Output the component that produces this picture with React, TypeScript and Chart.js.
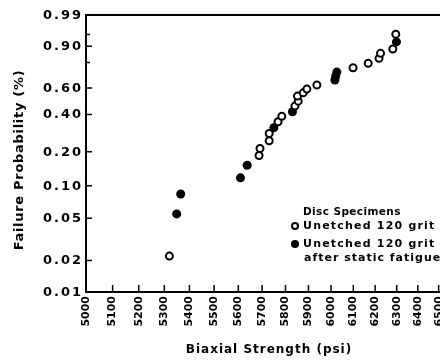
import React, { useEffect, useRef } from "react";
import { Chart, registerables } from "chart.js";

Chart.register(...registerables);

// ---- data ----
const xTickValues = [5000, 5100, 5200, 5300, 5400, 5500, 5600, 5700, 5800, 5900, 6000, 6100, 6200, 6300, 6400, 6500];
const yTickValues = [0.01, 0.02, 0.05, 0.1, 0.2, 0.4, 0.6, 0.9, 0.99];
const yTickLabels = ["0.01", "0.02", "0.05", "0.10", "0.20", "0.40", "0.60", "0.90", "0.99"];
const yMinorTicks = [0.8, 0.95];

const openStrength = [5320, 5687, 5691, 5730, 5730, 5768, 5784, 5841, 5855, 5852, 5877, 5893, 5937, 6099, 6168, 6218, 6225, 6282, 6296];
const openProb = [0.022, 0.186, 0.214, 0.248, 0.285, 0.352, 0.387, 0.459, 0.496, 0.535, 0.561, 0.591, 0.624, 0.762, 0.794, 0.829, 0.861, 0.886, 0.951];
const filledStrength = [5349, 5365, 5609, 5637, 5750, 5830, 6017, 6021, 6026, 6299];
const filledProb = [0.055, 0.084, 0.118, 0.153, 0.316, 0.418, 0.665, 0.697, 0.728, 0.921];

const xTitle = "Biaxial Strength (psi)";
const yTitle = "Failure Probability (%)";
const legendTitle = "Disc Specimens";
const openLabel = "Unetched 120 grit";
const filledLabel = ["Unetched 120 grit", "after static fatigue"];

// Weibull probability transform
const W = (f: number) => Math.log(-Math.log(1 - f));

const FONT = '"DejaVu Sans"';

const framePlugin = {
  id: "frame",
  afterDraw(chart: any) {
    const { ctx, chartArea, scales } = chart;
    const { left, top, right, bottom } = chartArea;
    const x = scales.x;
    const y = scales.y;
    ctx.save();
    ctx.strokeStyle = "#000";
    ctx.fillStyle = "#000";
    ctx.lineWidth = 2;
    ctx.beginPath();
    ctx.moveTo(left, top);
    ctx.lineTo(right, top);
    ctx.lineTo(right, bottom);
    ctx.lineTo(left, bottom);
    ctx.closePath();
    ctx.stroke();

    ctx.lineWidth = 1.5;
    ctx.beginPath();
    yTickValues.forEach((v) => {
      const p = y.getPixelForValue(W(v));
      ctx.moveTo(left, p);
      ctx.lineTo(left + 6, p);
    });
    yMinorTicks.forEach((v) => {
      const p = y.getPixelForValue(W(v));
      ctx.moveTo(left, p);
      ctx.lineTo(left + 4, p);
    });
    xTickValues.forEach((v) => {
      const p = x.getPixelForValue(v);
      ctx.moveTo(p, bottom);
      ctx.lineTo(p, bottom - 7);
    });
    ctx.stroke();

    // y tick labels
    ctx.font = `bold 13px ${FONT}`;
    (ctx as any).letterSpacing = "2px";
    ctx.textAlign = "right";
    ctx.textBaseline = "middle";
    yTickValues.forEach((v, i) => {
      const p = y.getPixelForValue(W(v));
      ctx.fillText(yTickLabels[i], left - 3, p + 0.5);
    });

    // x title
    ctx.font = `bold 12px ${FONT}`;
    (ctx as any).letterSpacing = "1px";
    ctx.textAlign = "center";
    ctx.fillText(xTitle, 269, 350);

    // y title
    ctx.save();
    ctx.translate(20, 160);
    ctx.rotate(-Math.PI / 2);
    ctx.font = `bold 13px ${FONT}`;
    (ctx as any).letterSpacing = "0.7px";
    ctx.fillText(yTitle, 0, 0);
    ctx.restore();

    // legend
    ctx.textAlign = "left";
    ctx.font = `bold 10.5px ${FONT}`;
    (ctx as any).letterSpacing = "0.4px";
    ctx.fillText(legendTitle, 303, 212);
    ctx.font = `bold 11px ${FONT}`;
    (ctx as any).letterSpacing = "1.2px";
    ctx.fillText(openLabel, 303, 226);
    ctx.fillText(filledLabel[0], 303, 244);
    (ctx as any).letterSpacing = "1px";
    ctx.fillText(filledLabel[1], 304, 258);

    ctx.lineWidth = 2;
    ctx.beginPath();
    ctx.arc(295, 226, 3, 0, Math.PI * 2);
    ctx.fillStyle = "#fff";
    ctx.fill();
    ctx.stroke();
    ctx.beginPath();
    ctx.arc(295, 244, 4, 0, Math.PI * 2);
    ctx.fillStyle = "#000";
    ctx.fill();
    ctx.restore();
  },
};

export default function App() {
  const ref = useRef<HTMLCanvasElement | null>(null);
  useEffect(() => {
    if (!ref.current) return;
    const chart = new Chart(ref.current, {
      type: "scatter",
      data: {
        datasets: [
          {
            label: openLabel,
            data: openStrength.map((s, i) => ({ x: s, y: W(openProb[i]) })),
            pointStyle: "circle",
            pointRadius: 3.5,
            pointBorderWidth: 2,
            pointBackgroundColor: "#fff",
            pointBorderColor: "#000",
          },
          {
            label: filledLabel.join(" "),
            data: filledStrength.map((s, i) => ({ x: s, y: W(filledProb[i]) })),
            pointStyle: "circle",
            pointRadius: 4.5,
            pointBorderWidth: 0,
            pointBackgroundColor: "#000",
            pointBorderColor: "#000",
          },
        ],
      },
      options: {
        responsive: false,
        animation: false,
        devicePixelRatio: 1,
        layout: { padding: { top: 15, right: 9, left: 0, bottom: 0 } },
        plugins: { legend: { display: false }, tooltip: { enabled: false } },
        scales: {
          x: {
            type: "logarithmic",
            min: 5000,
            max: 6560,
            grid: { display: false, drawTicks: false },
            border: { display: false },
            afterBuildTicks: (scale: any) => {
              scale.ticks = xTickValues.map((v) => ({ value: v }));
            },
            afterFit: (scale: any) => {
              scale.height = 69;
            },
            ticks: {
              autoSkip: false,
              minRotation: 90,
              maxRotation: 90,
              padding: 4,
              color: "#000",
              font: { family: FONT, weight: "bold", size: 11 },
              callback: (v: any) => String(v),
            },
          },
          y: {
            type: "linear",
            min: W(0.01),
            max: W(0.99),
            grid: { display: false, drawTicks: false },
            border: { display: false },
            ticks: { display: false },
            afterFit: (scale: any) => {
              scale.width = 86;
            },
          },
        },
      },
      plugins: [framePlugin],
    } as any);
    return () => chart.destroy();
  }, []);
  return (
    <div style={{ position: "absolute", left: 0, top: 0, width: 440, height: 361, overflow: "hidden", background: "#fff" }}>
      <canvas ref={ref} width={460} height={361} style={{ display: "block", width: 460, height: 361 }} />
    </div>
  );
}
